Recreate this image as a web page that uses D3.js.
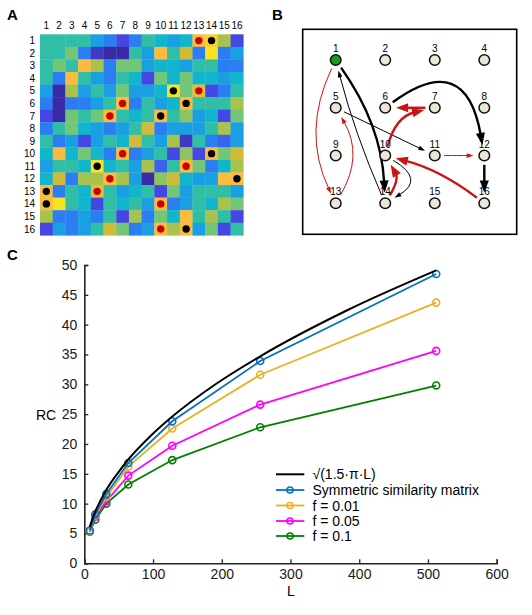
<!DOCTYPE html>
<html>
<head>
<meta charset="utf-8">
<script src="https://cdn.jsdelivr.net/npm/d3@7"></script>
<style>
  body { margin: 0; background: #fff; }
  svg { font-family: "Liberation Sans", Arial, sans-serif; }
</style>
</head>
<body>
<div id="chart-area"></div>
<script>
// ---------- data ----------
// panel A: similarity matrix (rows 1..16, cols 1..16), 0 = dark blue, 1 = yellow
const simMatrix = [
  [0.5,0.5,0.5,0.5,0.3,0.2,0.1,0.2,0.5,0.4,0.3,0.4,0.9,0.95,0.7,0.1],
  [0.5,0.5,0.6,0.2,0.05,0,0,0.5,0.3,0.9,0.5,0.8,0.2,1,0.2,0.3],
  [0.5,0.6,0.5,0.9,0.7,0.2,0.6,0.6,0.3,0.4,0.4,0.3,0.5,0.5,0.2,0.2],
  [0.5,0.2,0.9,0.5,0.3,0.2,0.5,0.4,0.1,0.6,0.4,0.6,0.4,0.4,0.3,0.4],
  [0.3,0,0.7,0.3,0.5,0.3,0.6,0.3,0.3,0.4,1,0.6,0.85,0.1,0.2,0.5],
  [0.2,0,0.2,0.2,0.3,0.5,0.9,0.2,0.5,0.3,0.4,0.9,0.5,0.5,0.5,0.7],
  [0.1,0,0.6,0.5,0.6,0.9,0.5,0.4,0.5,0.9,0.5,0.65,0.3,0.4,0.1,0.6],
  [0.2,0.5,0.6,0.4,0.3,0.2,0.3,0.5,0.8,0.2,0.3,0.3,0.3,0.5,0.7,0.3],
  [0.5,0.2,0.3,0.1,0.3,0.5,0.4,0.8,0.5,0.3,0.7,0.05,0.5,0.2,0.15,0.3],
  [0.4,0.9,0.4,0.6,0.4,0.2,0.9,0.2,0.3,0.5,0.1,0.65,0.1,0.9,0.6,0.8],
  [0.3,0.5,0.5,0.4,1,0.4,0.5,0.3,0.7,0.15,0.5,0.9,0.6,0.2,0.4,0.7],
  [0.4,0.8,0.2,0.7,0.7,0.9,0.7,0.3,0,0.65,0.8,0.4,0.3,0.3,0.9,0.9],
  [0.9,0.2,0.5,0.4,0.85,0.5,0.3,0.4,0.5,0.1,0.6,0.3,0.5,0.5,0.5,0.3],
  [0.9,1,0.5,0.4,0.1,0.5,0.4,0.5,0.3,0.9,0.2,0.3,0.5,0.4,0.7,0.6],
  [0.7,0.2,0.2,0.3,0.2,0.5,0.1,0.7,0.2,0.6,0.4,0.9,0.5,0.7,0.5,0.1],
  [0.1,0.3,0.2,0.3,0.5,0.8,0.6,0.2,0.3,0.9,0.7,0.9,0.3,0.6,0.1,0.5]
];
const matrixLabels = d3.range(1, 17);
const redDots = [[1,13],[5,13],[6,7],[7,6],[10,7],[11,12],[12,6],[13,5],[14,10],[16,10]];
const blackDots = [[1,14],[5,11],[6,12],[7,10],[10,14],[11,5],[12,16],[13,1],[14,1],[16,12]];

// panel B: 4x4 node grid and directed edges
const nodeIds = d3.range(1, 17);
const edges = [
  { s: 1,  t: 14, color: "black", w: 2.4, bend: -22 },
  { s: 14, t: 1,  color: "black", w: 1,   bend: -6 },
  { s: 1,  t: 13, color: "red",   w: 1,   bend: 34 },
  { s: 13, t: 5,  color: "red",   w: 1,   bend: 28 },
  { s: 5,  t: 11, color: "black", w: 1,   bend: 0 },
  { s: 6,  t: 12, color: "black", w: 2.4, bend: -88, shift: -8 },
  { s: 7,  t: 6,  color: "red",   w: 2.4, bend: 0 },
  { s: 10, t: 7,  color: "red",   w: 2.4, bend: -21 },
  { s: 11, t: 12, color: "red",   w: 1,   bend: 0 },
  { s: 12, t: 16, color: "black", w: 2.4, bend: 0 },
  { s: 16, t: 10, color: "red",   w: 2.4, bend: 11 },
  { s: 14, t: 10, color: "red",   w: 2.4, bend: 14 },
  { s: 10, t: 14, color: "black", w: 1,   bend: -40 }
];

// panel C
const curveL  = [8, 12, 16, 24, 32, 48, 64, 96, 128, 192, 256, 384, 512];
const curveRC = [6.1, 7.5, 8.7, 10.6, 12.3, 15.0, 17.4, 21.3, 24.6, 30.1, 34.7, 42.5, 49.1];
const Ls   = [8, 16, 32, 64, 128, 256, 512];
const sym  = [5.5, 8.2, 11.6, 16.8, 23.8, 33.9, 48.5];
const f001 = [5.4, 8.0, 11.1, 16.2, 22.6, 31.6, 43.7];
const f005 = [5.4, 7.8, 10.4, 14.7, 19.7, 26.6, 35.6];
const f01  = [5.3, 7.3, 10.0, 13.2, 17.3, 22.8, 29.8];
const seriesNames  = ["f = 0.1", "f = 0.05", "f = 0.01", "Symmetric similarity matrix"];
const seriesValues = [f01, f005, f001, sym];
const seriesColors = ["#008000", "#ff00ff", "#edb120", "#0072bd"];
const xTicks = [0, 100, 200, 300, 400, 500, 600];
const yTicks = [0, 5, 10, 15, 20, 25, 30, 35, 40, 45, 50];

// ---------- svg ----------
const svg = d3.select("#chart-area")
  .append("svg")
    .attr("width", 532)
    .attr("height", 615);

const panelLabel = (txt, x, y) => svg.append("text")
  .attr("x", x).attr("y", y)
  .attr("font-size", "15px").attr("font-weight", "bold")
  .text(txt);

panelLabel("A", 7, 20);
panelLabel("B", 272, 20);
panelLabel("C", 7, 260);

// ---------- panel A ----------
const parula = d3.scaleLinear()
  .domain([0, 0.1, 0.2, 0.3, 0.4, 0.5, 0.6, 0.7, 0.8, 0.9, 1])
  .range(["#3b2aa6", "#4547e2", "#2b7ef2", "#1aa0e2", "#12b6cc", "#30bfa6",
          "#72c676", "#a8c24e", "#d0bb38", "#fbbb3e", "#f7e420"]);

const cx = d3.scaleBand().domain(matrixLabels).range([40, 243.3]);
const cy = d3.scaleBand().domain(matrixLabels).range([34.3, 235.3]);

const cells = [];
simMatrix.forEach((row, i) => row.forEach((v, j) => cells.push({ r: i + 1, c: j + 1, v })));

const gA = svg.append("g");
gA.selectAll("rect.cell")
  .data(cells)
  .join("rect")
    .attr("class", "cell")
    .attr("x", d => cx(d.c))
    .attr("y", d => cy(d.r))
    .attr("width", cx.bandwidth() + 0.3)
    .attr("height", cy.bandwidth() + 0.3)
    .attr("fill", d => parula(d.v));

gA.selectAll("text.col")
  .data(matrixLabels)
  .join("text")
    .attr("class", "col")
    .attr("x", d => cx(d) + cx.bandwidth() / 2)
    .attr("y", 29)
    .attr("text-anchor", "middle")
    .attr("font-size", "10px")
    .text(d => d);

gA.selectAll("text.row")
  .data(matrixLabels)
  .join("text")
    .attr("class", "row")
    .attr("x", 35)
    .attr("y", d => cy(d) + cy.bandwidth() / 2 + 3.6)
    .attr("text-anchor", "end")
    .attr("font-size", "10px")
    .text(d => d);

const dots = redDots.map(d => ({ r: d[0], c: d[1], fill: "#cc0000" }))
  .concat(blackDots.map(d => ({ r: d[0], c: d[1], fill: "#000" })));
gA.selectAll("circle")
  .data(dots)
  .join("circle")
    .attr("cx", d => cx(d.c) + cx.bandwidth() / 2)
    .attr("cy", d => cy(d.r) + cy.bandwidth() / 2)
    .attr("r", 3.7)
    .attr("fill", d => d.fill);

// ---------- panel B ----------
const gB = svg.append("g");
gB.append("rect")
  .attr("x", 302.7).attr("y", 29.3)
  .attr("width", 214).attr("height", 205)
  .attr("fill", "none").attr("stroke", "#000").attr("stroke-width", 1.6);

const nx = d3.scaleLinear().domain([0, 3]).range([335.7, 484.3]);
const ny = d3.scaleLinear().domain([0, 3]).range([60, 203.3]);
const nodePos = id => [nx((id - 1) % 4), ny(Math.floor((id - 1) / 4))];
const nodeR = 5.3;
const redCol = "#cc1414";

edges.forEach(e => {
  const [x0, y0] = nodePos(e.s);
  const [x1, y1] = nodePos(e.t);
  const dx = x1 - x0, dy = y1 - y0, len = Math.hypot(dx, dy);
  const ux = dx / len, uy = dy / len;
  const nxv = -uy, nyv = ux;
  const sh = e.shift || 0;
  const qx = (x0 + x1) / 2 + nxv * e.bend + ux * sh;
  const qy = (y0 + y1) / 2 + nyv * e.bend + uy * sh;
  // start point: leave the node towards the control point
  const a = Math.atan2(qy - y0, qx - x0);
  const sx = x0 + Math.cos(a) * (nodeR + 4), sy = y0 + Math.sin(a) * (nodeR + 4);
  // end point: arrow tip before target node
  const b = Math.atan2(y1 - qy, x1 - qx);
  const tip = nodeR + 5.5;
  const tx = x1 - Math.cos(b) * tip, ty = y1 - Math.sin(b) * tip;
  const aLen = 3 + 3.8 * e.w, aWid = 1.5 + 3.2 * e.w;
  const bx = tx - Math.cos(b) * aLen * 0.8, by = ty - Math.sin(b) * aLen * 0.8;
  const col = e.color === "red" ? redCol : "#000";
  const path = d3.path();
  path.moveTo(sx, sy);
  path.quadraticCurveTo(qx, qy, bx, by);
  gB.append("path")
    .attr("d", path.toString())
    .attr("fill", "none")
    .attr("stroke", col)
    .attr("stroke-width", e.w);
  const hx = tx - Math.cos(b) * aLen, hy = ty - Math.sin(b) * aLen;
  const px = -Math.sin(b), py = Math.cos(b);
  gB.append("path")
    .attr("d", `M${tx},${ty}L${hx + px * aWid / 2},${hy + py * aWid / 2}L${hx - px * aWid / 2},${hy - py * aWid / 2}Z`)
    .attr("fill", col);
});

gB.selectAll("circle")
  .data(nodeIds)
  .join("circle")
    .attr("cx", d => nodePos(d)[0])
    .attr("cy", d => nodePos(d)[1])
    .attr("r", nodeR)
    .attr("fill", d => d === 1 ? "#1a9c1a" : "#e9e6da")
    .attr("stroke", "#111")
    .attr("stroke-width", 1.5);

gB.selectAll("text.node")
  .data(nodeIds)
  .join("text")
    .attr("class", "node")
    .attr("x", d => nodePos(d)[0])
    .attr("y", d => nodePos(d)[1] - 8)
    .attr("text-anchor", "middle")
    .attr("font-size", "10px")
    .text(d => d);

// ---------- panel C ----------
const x = d3.scaleLinear().domain([0, 600]).range([84.3, 496.7]);
const y = d3.scaleLinear().domain([0, 50]).range([563.3, 265]);

const gC = svg.append("g").attr("font-size", "14px");

const xAxis = d3.axisBottom(x).tickValues(xTicks).tickSize(-4).tickPadding(6);
const yAxis = d3.axisLeft(y).tickValues(yTicks).tickSize(-4).tickPadding(7);

gC.append("g")
  .attr("transform", "translate(0,563.3)")
  .call(xAxis)
  .call(g => g.selectAll("text").attr("font-size", "14px").attr("fill", "#1a1a1a"))
  .call(g => g.select(".domain").attr("stroke-width", 1.6).attr("stroke", "#262626"))
  .call(g => g.selectAll("line").attr("stroke-width", 1.3).attr("stroke", "#262626"));

gC.append("g")
  .attr("transform", "translate(84.3,0)")
  .call(yAxis)
  .call(g => g.selectAll("text").attr("font-size", "14px").attr("fill", "#1a1a1a"))
  .call(g => g.select(".domain").attr("stroke-width", 1.6).attr("stroke", "#262626"))
  .call(g => g.selectAll("line").attr("stroke-width", 1.3).attr("stroke", "#262626"));

gC.append("text")
  .attr("x", 46).attr("y", 420)
  .attr("text-anchor", "middle")
  .text("RC");
gC.append("text")
  .attr("x", 291).attr("y", 596)
  .attr("text-anchor", "middle")
  .text("L");

const line = d3.line().x(d => x(d[0])).y(d => y(d[1]));

seriesValues.forEach((vals, i) => {
  const pts = Ls.map((l, k) => [l, vals[k]]);
  gC.append("path")
    .datum(pts)
    .attr("d", line)
    .attr("fill", "none")
    .attr("stroke", seriesColors[i])
    .attr("stroke-width", 1.8);
  gC.selectAll(null)
    .data(pts)
    .join("circle")
      .attr("cx", d => x(d[0]))
      .attr("cy", d => y(d[1]))
      .attr("r", 3.5)
      .attr("fill", "none")
      .attr("stroke", seriesColors[i])
      .attr("stroke-width", 1.6);
});

gC.append("path")
  .datum(curveL.map((l, k) => [l, curveRC[k]]))
  .attr("d", line.curve(d3.curveMonotoneX))
  .attr("fill", "none")
  .attr("stroke", "#000")
  .attr("stroke-width", 2);

// legend
const legendItems = [
  { name: "\u221A(1.5\u00B7\u03C0\u00B7L)", color: "#000", marker: false },
  { name: seriesNames[3], color: seriesColors[3], marker: true },
  { name: seriesNames[2], color: seriesColors[2], marker: true },
  { name: seriesNames[1], color: seriesColors[1], marker: true },
  { name: seriesNames[0], color: seriesColors[0], marker: true }
];
const legendY = [474.3, 490, 505.5, 521, 536];
const leg = gC.append("g");
legendItems.forEach((d, i) => {
  leg.append("line")
    .attr("x1", 276).attr("x2", 304.3)
    .attr("y1", legendY[i]).attr("y2", legendY[i])
    .attr("stroke", d.color)
    .attr("stroke-width", d.marker ? 1.8 : 2);
  if (d.marker) {
    leg.append("circle")
      .attr("cx", 290).attr("cy", legendY[i])
      .attr("r", 3)
      .attr("fill", "none")
      .attr("stroke", d.color)
      .attr("stroke-width", 1.5);
  }
  leg.append("text")
    .attr("x", 312.5).attr("y", legendY[i] + 5)
    .attr("font-size", "14px")
    .text(d.name);
});
</script>
</body>
</html>
